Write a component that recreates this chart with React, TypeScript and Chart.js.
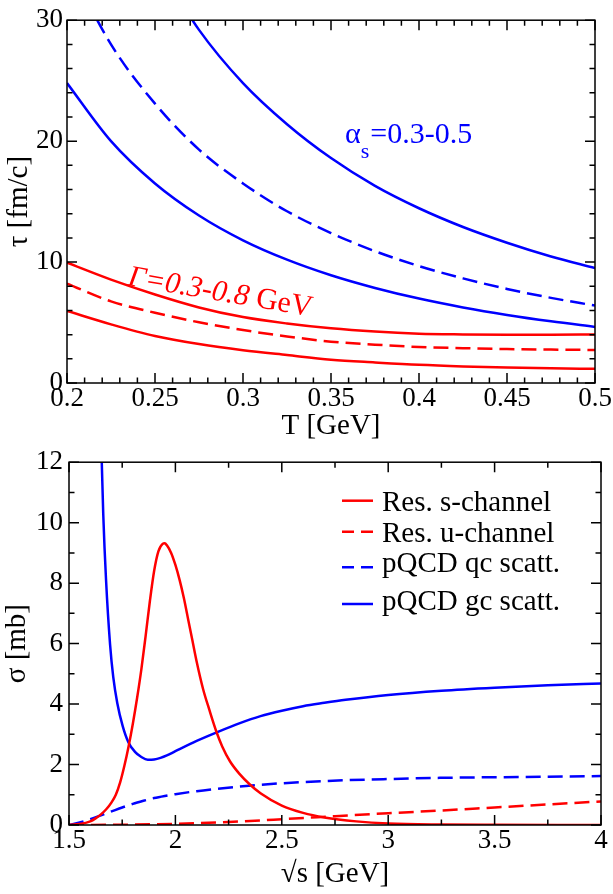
import { useEffect, useRef } from 'react';
import { Chart, registerables } from 'chart.js';

Chart.register(...registerables);

const RED = '#ff0000';
const BLUE = '#0000ff';
const SERIF = '"Liberation Serif", "Times New Roman", Times, serif';
const DASH = [15, 7];

// ---- upper panel: relaxation time tau [fm/c] versus temperature T [GeV] ----
const T_GEV = [0.2, 0.225, 0.25, 0.275, 0.3, 0.325, 0.35, 0.375, 0.4, 0.425, 0.45, 0.475, 0.5];
// pQCD, alpha_s = 0.3 / 0.4 / 0.5
const TAU_PQCD_A03 = [null, null, 35.0, 29.2, 24.8, 21.4, 18.6, 16.3, 14.45, 12.9, 11.6, 10.46, 9.5];
const TAU_PQCD_A04 = [34.9, 28.0, 23.1, 19.3, 16.5, 14.2, 12.4, 10.9, 9.67, 8.65, 7.78, 7.04, 6.4];
const TAU_PQCD_A05 = [24.8, 20.0, 16.5, 13.85, 11.8, 10.2, 8.91, 7.86, 6.98, 6.25, 5.63, 5.1, 4.64];
// resonances, Gamma = 0.3 / 0.5 / 0.8 GeV
const TAU_RES_G03 = [9.95, 8.55, 7.32, 6.25, 5.45, 4.92, 4.52, 4.25, 4.08, 4.02, 3.99, 3.99, 4.01];
const TAU_RES_G05 = [8.22, 6.75, 5.81, 5.02, 4.38, 3.85, 3.42, 3.17, 2.98, 2.88, 2.81, 2.76, 2.73];
const TAU_RES_G08 = [5.95, 4.85, 3.89, 3.22, 2.71, 2.31, 1.93, 1.7, 1.5, 1.37, 1.28, 1.21, 1.17];

const T_TICKS = [0.2, 0.25, 0.3, 0.35, 0.4, 0.45, 0.5];
const T_TICK_LABELS = ['0.2', '0.25', '0.3', '0.35', '0.4', '0.45', '0.5'];
const TAU_TICKS = [0, 10, 20, 30];
const TAU_TICK_LABELS = ['0', '10', '20', '30'];

// ---- lower panel: cross section sigma [mb] versus sqrt(s) [GeV] ----
const RES_S_SQRTS = [1.5, 1.55, 1.6, 1.625, 1.65, 1.675, 1.7, 1.72, 1.74, 1.76, 1.78, 1.8, 1.82, 1.84, 1.86, 1.88, 1.9, 1.92, 1.94, 1.95, 1.96, 1.98, 2.0, 2.02, 2.04, 2.06, 2.08, 2.1, 2.13, 2.16, 2.194, 2.22, 2.257, 2.3, 2.35, 2.4, 2.5, 2.6, 2.7, 2.85, 3.0, 3.25, 3.5, 4.0];
const RES_S_SIGMA = [0, 0.03, 0.12, 0.22, 0.35, 0.52, 0.75, 1.0, 1.4, 1.95, 2.6, 3.35, 4.2, 5.15, 6.25, 7.4, 8.4, 9.05, 9.3, 9.32, 9.25, 9.0, 8.6, 8.1, 7.5, 6.8, 6.1, 5.4, 4.5, 3.8, 3.06, 2.6, 2.1, 1.7, 1.34, 1.05, 0.64, 0.4, 0.25, 0.12, 0.05, 0.015, 0.005, 0];

const RES_U_SQRTS = [1.5, 1.75, 2.0, 2.25, 2.5, 2.75, 3.0, 3.25, 3.5, 3.75, 4.0];
const RES_U_SIGMA = [0, 0.01, 0.04, 0.1, 0.19, 0.29, 0.39, 0.48, 0.58, 0.68, 0.78];

const QC_SQRTS = [1.5, 1.55, 1.6, 1.65, 1.7, 1.75, 1.8, 1.85, 1.9, 1.95, 2.0, 2.1, 2.2, 2.3, 2.4, 2.5, 2.6, 2.8, 3.0, 3.25, 3.5, 3.75, 4.0];
const QC_SIGMA = [0, 0.08, 0.19, 0.32, 0.45, 0.58, 0.7, 0.8, 0.89, 0.96, 1.02, 1.12, 1.2, 1.27, 1.33, 1.38, 1.42, 1.48, 1.52, 1.56, 1.58, 1.6, 1.62];

const GC_SQRTS = [1.648, 1.654, 1.661, 1.674, 1.693, 1.708, 1.727, 1.752, 1.779, 1.81, 1.84, 1.87, 1.9, 1.93, 1.96, 2.0, 2.1, 2.2, 2.3, 2.4, 2.5, 2.6, 2.7, 2.8, 3.0, 3.25, 3.5, 3.75, 4.0];
const GC_SIGMA = [13.3, 12.0, 10.27, 8.12, 5.97, 4.89, 4.03, 3.28, 2.74, 2.42, 2.25, 2.16, 2.17, 2.22, 2.3, 2.44, 2.78, 3.08, 3.36, 3.6, 3.78, 3.93, 4.04, 4.14, 4.3, 4.44, 4.54, 4.62, 4.68];

const SQRTS_TICKS = [1.5, 2, 2.5, 3, 3.5, 4];
const SQRTS_TICK_LABELS = ['1.5', '2', '2.5', '3', '3.5', '4'];
const SIGMA_TICKS = [0, 2, 4, 6, 8, 10, 12];
const SIGMA_TICK_LABELS = ['0', '2', '4', '6', '8', '10', '12'];

const LEGEND_LABELS = ['Res. s-channel', 'Res. u-channel', 'pQCD qc scatt.', 'pQCD gc scatt.'];

type AxisSpec = { min: number; max: number; ticks: number[]; labels: string[]; minorStep: number };

const zip = (xs: number[], ys: (number | null)[]) => xs.map((x, i) => ({ x, y: ys[i] }));

const curve = (xs: number[], ys: (number | null)[], color: string, dashed: boolean) => ({
  data: zip(xs, ys),
  borderColor: color,
  backgroundColor: color,
  borderWidth: 2.5,
  borderDash: dashed ? DASH : [],
  pointRadius: 0,
  fill: false,
  cubicInterpolationMode: 'monotone',
  spanGaps: false,
});

function scaleOptions(spec: AxisSpec, fit: (s: any) => void, pad: number) {
  return {
    type: 'linear',
    min: spec.min,
    max: spec.max,
    grid: { display: false, drawTicks: false },
    border: { display: false },
    afterBuildTicks: (s: any) => {
      s.ticks = spec.ticks.map((v) => ({ value: v }));
    },
    afterFit: fit,
    ticks: {
      autoSkip: false,
      maxRotation: 0,
      minRotation: 0,
      padding: pad,
      color: '#000',
      font: { family: SERIF, size: 27 },
      callback: (_v: any, i: number) => spec.labels[i],
    },
  };
}

function drawFrame(chart: any, xs: AxisSpec, ys: AxisSpec) {
  const { ctx, chartArea: a } = chart;
  const sx = chart.scales.x;
  const sy = chart.scales.y;
  ctx.save();
  ctx.strokeStyle = '#000';
  ctx.lineWidth = 1.5;
  ctx.beginPath();
  const nx = Math.round((xs.max - xs.min) / xs.minorStep);
  for (let i = 0; i <= nx; i++) {
    const v = xs.min + i * xs.minorStep;
    const major = xs.ticks.some((t) => Math.abs(t - v) < 1e-9);
    const len = major ? 10 : 5.5;
    const px = sx.getPixelForValue(v);
    ctx.moveTo(px, a.bottom);
    ctx.lineTo(px, a.bottom - len);
    ctx.moveTo(px, a.top);
    ctx.lineTo(px, a.top + len);
  }
  const ny = Math.round((ys.max - ys.min) / ys.minorStep);
  for (let i = 0; i <= ny; i++) {
    const v = ys.min + i * ys.minorStep;
    const major = ys.ticks.some((t) => Math.abs(t - v) < 1e-9);
    const len = major ? 10 : 5.5;
    const py = sy.getPixelForValue(v);
    ctx.moveTo(a.left, py);
    ctx.lineTo(a.left + len, py);
    ctx.moveTo(a.right, py);
    ctx.lineTo(a.right - len, py);
  }
  ctx.stroke();
  ctx.strokeRect(a.left, a.top, a.right - a.left, a.bottom - a.top);
  ctx.restore();
}

function label(ctx: CanvasRenderingContext2D, str: string, x: number, y: number, font: string, color: string, align: CanvasTextAlign = 'left', baseline: CanvasTextBaseline = 'alphabetic') {
  ctx.font = font;
  ctx.fillStyle = color;
  ctx.textAlign = align;
  ctx.textBaseline = baseline;
  ctx.fillText(str, x, y);
  return ctx.measureText(str).width;
}

function verticalTitle(ctx: CanvasRenderingContext2D, str: string, x: number, y: number) {
  ctx.save();
  ctx.translate(x, y);
  ctx.rotate(-Math.PI / 2);
  label(ctx, str, 0, 0, `29px ${SERIF}`, '#000', 'center', 'middle');
  ctx.restore();
}

type PanelProps = {
  width: number;
  height: number;
  top: number;
  padTop: number;
  padRight: number;
  yAxisWidth: number;
  xAxisHeight: number;
  yLabelPad: number;
  xLabelPad: number;
  x: AxisSpec;
  y: AxisSpec;
  datasets: any[];
  decorate: (chart: any) => void;
};

function Panel(p: PanelProps) {
  const ref = useRef<HTMLCanvasElement | null>(null);
  useEffect(() => {
    if (!ref.current) return;
    const chart = new Chart(ref.current, {
      type: 'line',
      data: { datasets: p.datasets },
      options: {
        responsive: false,
        maintainAspectRatio: false,
        animation: false,
        events: [],
        layout: { padding: { left: 0, right: p.padRight, top: p.padTop, bottom: 0 } },
        plugins: { legend: { display: false }, tooltip: { enabled: false }, title: { display: false } },
        scales: {
          x: scaleOptions(p.x, (s: any) => { s.height = p.xAxisHeight; }, p.xLabelPad),
          y: scaleOptions(p.y, (s: any) => { s.width = p.yAxisWidth; }, p.yLabelPad),
        },
      } as any,
      plugins: [
        {
          id: 'frameAndText',
          afterDraw: (c: any) => {
            drawFrame(c, p.x, p.y);
            c.ctx.save();
            p.decorate(c);
            c.ctx.restore();
          },
        },
      ],
    } as any);
    return () => chart.destroy();
  }, []);
  return (
    <canvas
      ref={ref}
      width={p.width}
      height={p.height}
      style={{ position: 'absolute', left: 0, top: p.top, width: p.width, height: p.height }}
    />
  );
}

const TAU_PANEL: Omit<PanelProps, 'top'> = {
  width: 613,
  height: 440,
  padTop: 14,
  padRight: 18,
  yAxisWidth: 67,
  xAxisHeight: 57,
  yLabelPad: 4,
  xLabelPad: 0,
  x: { min: 0.2, max: 0.5, ticks: T_TICKS, labels: T_TICK_LABELS, minorStep: 0.01 },
  y: { min: 0, max: 30, ticks: TAU_TICKS, labels: TAU_TICK_LABELS, minorStep: 2 },
  datasets: [
    curve(T_GEV, TAU_PQCD_A03, BLUE, false),
    curve(T_GEV, TAU_PQCD_A04, BLUE, true),
    curve(T_GEV, TAU_PQCD_A05, BLUE, false),
    curve(T_GEV, TAU_RES_G03, RED, false),
    curve(T_GEV, TAU_RES_G05, RED, true),
    curve(T_GEV, TAU_RES_G08, RED, false),
  ],
  decorate: (c: any) => {
    const ctx: CanvasRenderingContext2D = c.ctx;
    const a = c.chartArea;
    label(ctx, 'T [GeV]', (a.left + a.right) / 2, 434, `29px ${SERIF}`, '#000', 'center');
    verticalTitle(ctx, '\u03c4 [fm/c]', 19, (a.top + a.bottom) / 2);

    // alpha_s annotation
    let x = 345;
    x += label(ctx, '\u03b1', x, 143, `30px ${SERIF}`, BLUE);
    x += label(ctx, 's', x, 158, `22px ${SERIF}`, BLUE) + 1;
    label(ctx, '=0.3-0.5', x, 143, `30px ${SERIF}`, BLUE);

    // Gamma annotation, tilted along the resonance curves
    ctx.save();
    ctx.translate(127, 285);
    ctx.rotate((9.7 * Math.PI) / 180);
    const w = label(ctx, '\u0393=0.3-0.8 ', 0, 0, `italic 30px ${SERIF}`, RED);
    label(ctx, 'GeV', w, 0, `30px ${SERIF}`, RED);
    ctx.restore();
  },
};

const SIGMA_PANEL: Omit<PanelProps, 'top'> = {
  width: 613,
  height: 454,
  padTop: 13,
  padRight: 12,
  yAxisWidth: 69,
  xAxisHeight: 69,
  yLabelPad: 6,
  xLabelPad: 0,
  x: { min: 1.5, max: 4, ticks: SQRTS_TICKS, labels: SQRTS_TICK_LABELS, minorStep: 0.25 },
  y: { min: 0, max: 12, ticks: SIGMA_TICKS, labels: SIGMA_TICK_LABELS, minorStep: 1 },
  datasets: [
    curve(RES_S_SQRTS, RES_S_SIGMA, RED, false),
    curve(RES_U_SQRTS, RES_U_SIGMA, RED, true),
    curve(QC_SQRTS, QC_SIGMA, BLUE, true),
    curve(GC_SQRTS, GC_SIGMA, BLUE, false),
  ],
  decorate: (c: any) => {
    const ctx: CanvasRenderingContext2D = c.ctx;
    const a = c.chartArea;
    label(ctx, '\u221as [GeV]', (a.left + a.right) / 2, 442, `29px ${SERIF}`, '#000', 'center');
    verticalTitle(ctx, '\u03c3 [mb]', 17, (a.top + a.bottom) / 2);

    // legend
    const colors = [RED, RED, BLUE, BLUE];
    const dashed = [false, true, true, false];
    const lineY = [60.7, 91.7, 127.3, 164];
    const textY = [70.7, 101.7, 131.7, 170];
    LEGEND_LABELS.forEach((txt, i) => {
      ctx.save();
      ctx.strokeStyle = colors[i];
      ctx.lineWidth = 2.5;
      ctx.setLineDash(dashed[i] ? [12, 7] : []);
      ctx.beginPath();
      ctx.moveTo(342, lineY[i]);
      ctx.lineTo(373, lineY[i]);
      ctx.stroke();
      ctx.restore();
      label(ctx, txt, 382, textY[i], `29px ${SERIF}`, '#000');
    });
  },
};

export default function App() {
  return (
    <div style={{ position: 'absolute', left: 0, top: 0, width: 613, height: 894, background: '#fff' }}>
      <Panel {...TAU_PANEL} top={0} />
      <Panel {...SIGMA_PANEL} top={440} />
    </div>
  );
}
